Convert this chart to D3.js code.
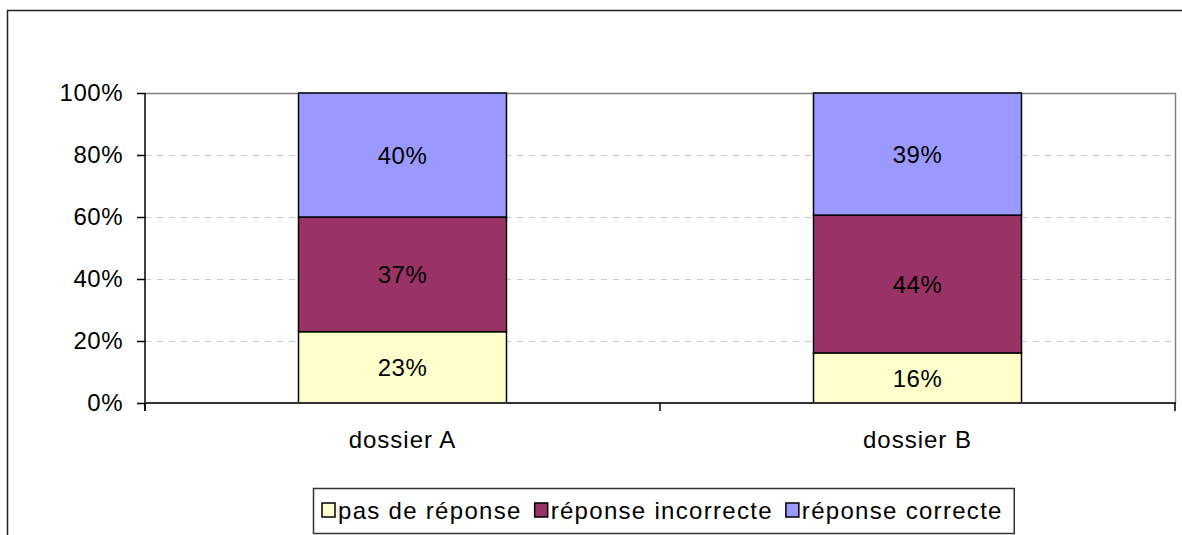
<!DOCTYPE html>
<html>
<head>
<meta charset="utf-8">
<script src="https://cdn.jsdelivr.net/npm/d3@7"></script>
<style>
  html, body { margin: 0; padding: 0; background: #fff; }
  svg { display: block; font-family: "Liberation Sans", Arial, sans-serif; }
</style>
</head>
<body>
<svg id="chart" width="1182" height="535"></svg>
<script>
// Answer shares per file (percent)
const categories = ["dossier A", "dossier B"];
const seriesNames = ["pas de réponse", "réponse incorrecte", "réponse correcte"];
const pasDeReponse = [23, 16];
const reponseIncorrecte = [37, 44];
const reponseCorrecte = [40, 39];
const yTicks = [0, 0.2, 0.4, 0.6, 0.8, 1];
const colors = ["#FFFFCC", "#993366", "#9999FF"];

const rows = categories.map((c, i) => ({
  cat: c,
  [seriesNames[0]]: pasDeReponse[i],
  [seriesNames[1]]: reponseIncorrecte[i],
  [seriesNames[2]]: reponseCorrecte[i]
}));

const svg = d3.select("#chart");
const plot = { left: 145, right: 1175, top: 93, bottom: 403 };

// Outer chart frame (extends past the viewport on the right and bottom)
svg.append("rect")
  .attr("x", 7.5).attr("y", 10.5)
  .attr("width", 1300).attr("height", 700)
  .attr("fill", "#fff").attr("stroke", "#222").attr("stroke-width", 1.5);

const xb = d3.scaleBand().domain(categories).range([plot.left, plot.right]);
const y = d3.scaleLinear().domain([0, 1]).range([plot.bottom, plot.top]);

// Plot area border (top and right)
svg.append("path")
  .attr("d", `M${plot.left},${plot.top + 0.5}H${plot.right + 0.5}V${plot.bottom}`)
  .attr("fill", "none").attr("stroke", "#808080").attr("stroke-width", 1.5);

// Dashed gridlines
svg.append("g").selectAll("line")
  .data(yTicks.filter(t => t > 0 && t < 1))
  .join("line")
  .attr("x1", plot.left).attr("x2", plot.right)
  .attr("y1", d => Math.round(y(d)) + 0.5).attr("y2", d => Math.round(y(d)) + 0.5)
  .attr("stroke", "#c8c8c8").attr("stroke-dasharray", "6,6");

// Stacked (normalised to 100%) bars
const stack = d3.stack().keys(seriesNames).offset(d3.stackOffsetExpand);
const layers = stack(rows);

const barW = 208;
const g = svg.append("g");
layers.forEach((layer, li) => {
  g.selectAll(null)
    .data(layer)
    .join("rect")
    .attr("x", d => xb(d.data.cat) + xb.bandwidth() / 2 - barW / 2)
    .attr("y", d => y(d[1]))
    .attr("width", barW)
    .attr("height", d => y(d[0]) - y(d[1]))
    .attr("fill", colors[li])
    .attr("stroke", "#000").attr("stroke-width", 1.5);
});

// Value labels inside the segments
layers.forEach((layer, li) => {
  g.selectAll(null)
    .data(layer)
    .join("text")
    .attr("x", d => xb(d.data.cat) + xb.bandwidth() / 2)
    .attr("y", d => y((d[0] + d[1]) / 2))
    .attr("dy", "0.36em")
    .attr("text-anchor", "middle")
    .attr("font-size", 24)
    .attr("letter-spacing", 0.5)
    .attr("fill", "#000")
    .text(d => d.data[layer.key] + "%");
});

// Y axis
const yAxis = svg.append("g")
  .attr("transform", `translate(${plot.left},0)`)
  .call(d3.axisLeft(y).tickValues(yTicks).tickFormat(d3.format(".0%")).tickSize(8).tickPadding(14));
yAxis.select(".domain").attr("stroke", "#000").attr("stroke-width", 1.5).attr("d", `M0,${plot.top}V${plot.bottom + 8}`);
yAxis.selectAll(".tick line").attr("stroke", "#000").attr("stroke-width", 1.5);
yAxis.selectAll(".tick text")
  .attr("font-size", 24).attr("letter-spacing", 0.5)
  .attr("fill", "#000").attr("font-family", "Liberation Sans, Arial, sans-serif");

// X axis
const xAxis = svg.append("g")
  .attr("transform", `translate(0,${plot.bottom})`);
xAxis.append("line")
  .attr("x1", plot.left).attr("x2", plot.right + 1)
  .attr("stroke", "#333").attr("stroke-width", 2);
const boundaries = [plot.left, ...categories.map(c => xb(c) + xb.bandwidth())];
xAxis.selectAll("line.tk")
  .data(boundaries)
  .join("line")
  .attr("class", "tk")
  .attr("x1", d => d).attr("x2", d => d)
  .attr("y1", 0).attr("y2", 8)
  .attr("stroke", "#000").attr("stroke-width", 1.5);
xAxis.selectAll("text")
  .data(categories)
  .join("text")
  .attr("x", d => xb(d) + xb.bandwidth() / 2)
  .attr("y", 45)
  .attr("text-anchor", "middle")
  .attr("font-size", 24)
  .attr("letter-spacing", 1)
  .attr("fill", "#000")
  .text(d => d);

// Legend
const legend = svg.append("g");
const legendBox = legend.append("rect")
  .attr("fill", "#fff").attr("stroke", "#333").attr("stroke-width", 1.5);
let cx = 322;
const ly = 510;
seriesNames.forEach((name, i) => {
  legend.append("rect")
    .attr("x", cx).attr("y", ly - 7).attr("width", 13).attr("height", 14)
    .attr("fill", colors[i]).attr("stroke", "#000").attr("stroke-width", 1.5);
  const t = legend.append("text")
    .attr("x", cx + 16).attr("y", ly).attr("dy", "0.36em")
    .attr("font-size", 24).attr("letter-spacing", 1.3)
    .attr("fill", "#000")
    .text(name);
  cx += 16 + t.node().getComputedTextLength() + 13;
});
legendBox.attr("x", 313.5).attr("y", 488.5).attr("width", cx - 313 - 2).attr("height", 45);
</script>
</body>
</html>
